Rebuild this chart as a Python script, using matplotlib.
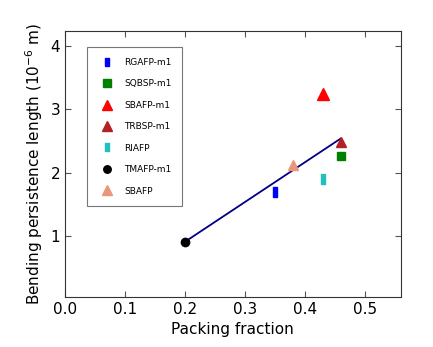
import numpy as np
import matplotlib
matplotlib.use("Agg")
import matplotlib.pyplot as plt

# data
labels = ["RGAFP-m1", "SQBSP-m1", "SBAFP-m1", "TRBSP-m1", "RIAFP", "TMAFP-m1", "SBAFP"]
packing = [0.35, 0.46, 0.43, 0.46, 0.43, 0.20, 0.38]
persistence = [1.69, 2.27, 3.25, 2.48, 1.91, 0.91, 2.13]
colors = ["blue", "green", "red", "#b22222", "#20c0c0", "black", "#e9967a"]
line_x = [0.20, 0.46]
line_y = [0.91, 2.54]

# thin upright rectangle marker
rect = [(-0.4, -1), (0.4, -1), (0.4, 1), (-0.4, 1), (-0.4, -1)]
markers = [rect, "s", "^", "^", rect, "o", "^"]
sizes = [6.5, 6, 8, 7.5, 6.5, 6, 7.5]

plt.rcParams['xtick.direction'] = 'in'
plt.rcParams['ytick.direction'] = 'in'
plt.rcParams['xtick.top'] = True
plt.rcParams['ytick.right'] = True
plt.rcParams['axes.unicode_minus'] = False

fig = plt.figure(figsize=(4.33, 3.47), dpi=100)
ax = fig.add_axes([0.150, 0.144, 0.775, 0.767])

ax.plot(line_x, line_y, color="navy", linewidth=1.3, zorder=2)
for lab, x, y, c, m, s in zip(labels, packing, persistence, colors, markers, sizes):
    ax.plot([x], [y], linestyle="none", marker=m, color=c, markeredgecolor=c,
            markersize=s, label=lab, zorder=3)

ax.set_xlim(0, 0.56)
ax.set_ylim(0.04, 4.24)
ax.set_xticks([0.0, 0.1, 0.2, 0.3, 0.4, 0.5])
ax.set_yticks([1, 2, 3, 4])
ax.tick_params(labelsize=11, length=4, color="#555555")
for sp in ax.spines.values():
    sp.set_color("#333333")
ax.set_xlabel("Packing fraction", fontsize=11)
ax.set_ylabel(r"Bending persistence length (10$^{-6}$ m)", fontsize=11)

leg = ax.legend(loc="upper left", bbox_to_anchor=(0.066, 0.938), borderaxespad=0,
                numpoints=1, fontsize=6.5, labelspacing=1.38, fancybox=False,
                borderpad=1.15, handletextpad=1.0, markerscale=0.9)
leg.get_frame().set_edgecolor("#555555")
leg.get_frame().set_linewidth(0.8)

fig.savefig("out.png", dpi=100)
